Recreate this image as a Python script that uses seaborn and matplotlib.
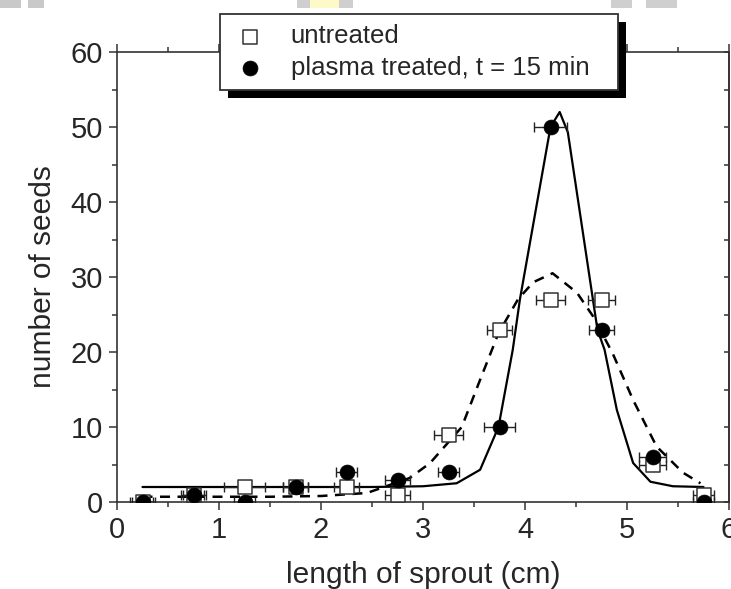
import matplotlib
matplotlib.use("Agg")
import matplotlib.pyplot as plt
from matplotlib.patches import Rectangle
from matplotlib.ticker import MultipleLocator
import seaborn as sns

# measured seed counts per sprout-length class
length = [0.25, 0.75, 1.25, 1.75, 2.25, 2.75, 3.25, 3.75, 4.25, 4.75, 5.25, 5.75]
untreated = [0, 1, 2, 2, 2, 1, 9, 23, 27, 27, 5, 1]
untreated_err = [0.12, 0.12, 0.2, 0.12, 0.12, 0.12, 0.14, 0.12, 0.14, 0.13, 0.13, 0.1]
treated = [0, 1, 0, 2, 4, 3, 4, 10, 50, 23, 6, 0]
treated_err = [0.1, 0.1, 0.1, 0.12, 0.1, 0.12, 0.1, 0.15, 0.16, 0.12, 0.13, 0.1]

# fit curves
fit_treated_x = [0.25, 2.5, 3.0, 3.33, 3.56, 3.74, 3.88, 3.95, 4.25, 4.34, 4.42,
                 4.71, 4.78, 4.90, 5.06, 5.23, 5.45, 5.75]
fit_treated_y = [2.0, 2.0, 2.1, 2.5, 4.3, 10, 20.3, 27, 50, 52, 49.3,
                 23, 20.3, 12.3, 5.2, 2.7, 2.1, 2.0]
fit_untreated_x = [0.25, 1.0, 1.5, 2.0, 2.45, 2.87, 3.07, 3.38, 3.56, 3.74, 3.93,
                   4.08, 4.27, 4.51, 4.67, 4.86, 5.06, 5.29, 5.55, 5.72]
fit_untreated_y = [0.7, 0.7, 0.7, 0.8, 1.2, 3.2, 5.2, 10, 16.3, 22.5, 27,
                   29.3, 30.5, 27.9, 24.7, 19.8, 13.6, 7.4, 3.9, 2.5]

sns.set_theme(style="ticks")
plt.rcParams['font.family'] = ['Liberation Sans', 'DejaVu Sans']

fig = plt.figure(figsize=(7.31, 5.89), dpi=100)
ax = fig.add_axes([117 / 731, 87 / 589, 612 / 731, 450 / 589])

# fits
sns.lineplot(x=fit_untreated_x, y=fit_untreated_y, ax=ax, color='black', lw=1.8,
             linestyle=(0, (4, 3)), sort=False, estimator=None, zorder=2)
sns.lineplot(x=fit_treated_x, y=fit_treated_y, ax=ax, color='black', lw=1.6,
             sort=False, estimator=None, zorder=2)

# horizontal error bars
ax.errorbar(length, untreated, xerr=untreated_err, fmt='none', ecolor='#222222',
            elinewidth=1, capsize=3.5, capthick=1, zorder=3)
ax.errorbar(length, treated, xerr=treated_err, fmt='none', ecolor='#222222',
            elinewidth=1, capsize=3.5, capthick=1, zorder=3)

# data points
sns.scatterplot(x=length, y=untreated, ax=ax, marker='s', s=90, color='white',
                edgecolor='#333333', linewidth=1.1, label='untreated', zorder=4)
sns.scatterplot(x=length, y=treated, ax=ax, marker='o', s=115, color='black',
                edgecolor='black', linewidth=0.5, label='plasma treated, t = 15 min', zorder=5)

ax.set_xlim(0, 6)
ax.set_ylim(0, 60)
ax.xaxis.set_major_locator(MultipleLocator(1))
ax.xaxis.set_minor_locator(MultipleLocator(0.5))
ax.yaxis.set_major_locator(MultipleLocator(10))
ax.yaxis.set_minor_locator(MultipleLocator(5))

for sp in ax.spines.values():
    sp.set_color('#333333')
    sp.set_linewidth(1.2)

ax.tick_params(axis='both', which='major', direction='out', length=6, width=1.1,
               color='#333333', labelsize=21, pad=4)
ax.tick_params(axis='both', which='minor', direction='out', length=3.5, width=1.1,
               color='#333333')
ax.tick_params(axis='x', which='both', top=True)
ax.tick_params(axis='y', which='both', right=False)

# right axis: inward ticks, no labels
sec = ax.secondary_yaxis('right')
sec.yaxis.set_major_locator(MultipleLocator(10))
sec.yaxis.set_minor_locator(MultipleLocator(5))
sec.tick_params(which='both', direction='in', length=3.5, width=1.1, color='#333333',
                labelright=False)
sec.spines['right'].set_color('#333333')
sec.spines['right'].set_linewidth(1.2)

ax.set_xlabel('length of sprout (cm)', fontsize=21.5, labelpad=12)
ax.set_ylabel('number of seeds', fontsize=21.5, labelpad=10)

ax.get_legend().remove()
handles, labels = ax.get_legend_handles_labels()
leg = fig.legend(handles, labels, loc='upper left', mode='expand',
                 bbox_to_anchor=(220 / 731, 1 - 88 / 589, 398 / 731, 74 / 589),
                 bbox_transform=fig.transFigure,
                 fontsize=18.5, frameon=True, fancybox=False, framealpha=1,
                 edgecolor='#333333', borderpad=0.4, labelspacing=0.3,
                 handlelength=1.5, handletextpad=0.85, borderaxespad=0)
leg.get_frame().set_linewidth(1.3)
leg.set_zorder(6)

# solid black drop shadow behind the legend
fig.canvas.draw()
bb = leg.get_frame().get_window_extent()
inv = fig.transFigure.inverted()
(x0, y0), (x1, y1) = inv.transform([(bb.x0 + 8, bb.y0 - 8), (bb.x1 + 8, bb.y1 - 8)])
fig.patches.append(Rectangle((x0, y0), x1 - x0, y1 - y0, transform=fig.transFigure,
                             facecolor='black', edgecolor='none', zorder=5))

# grey/yellow scraps along the top edge of the scan
for px, w, c in [(0, 21, '#c9c9c9'), (28, 16, '#c9c9c9'), (297, 13, '#cfcfcf'),
                 (310, 29, '#fdfac8'), (339, 14, '#cfcfcf'), (611, 21, '#cfcfcf'),
                 (646, 31, '#cfcfcf')]:
    fig.patches.append(Rectangle((px / 731, 1 - 8 / 589), w / 731, 8 / 589,
                                 transform=fig.transFigure, facecolor=c,
                                 edgecolor='none', zorder=0))

fig.savefig('out.png', dpi=100)
